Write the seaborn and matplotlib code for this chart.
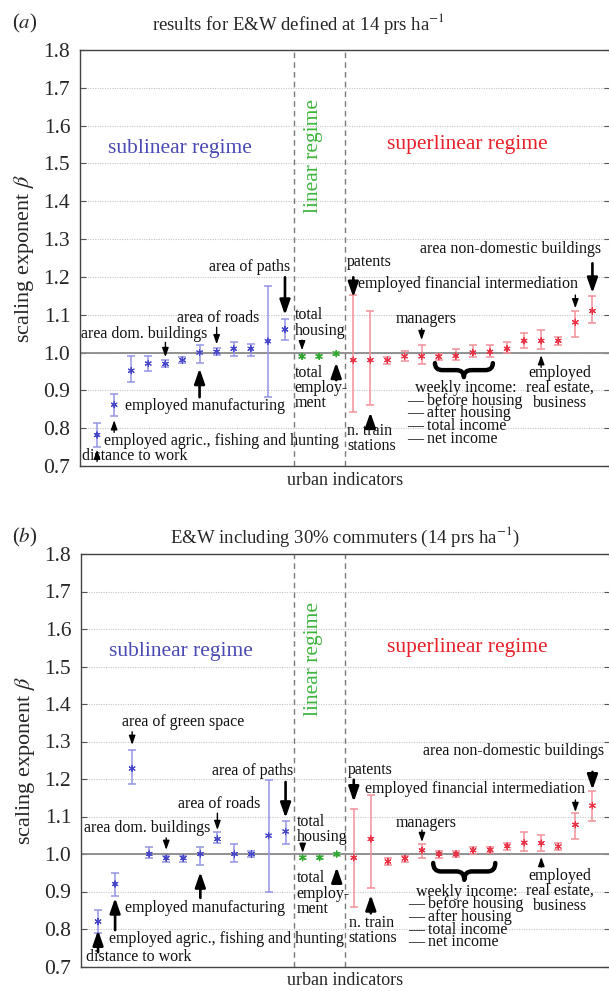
import numpy as np
import pandas as pd
import matplotlib
matplotlib.use("Agg")
import matplotlib.pyplot as plt
from matplotlib.path import Path
from matplotlib.patches import PathPatch
import seaborn as sns

# ---------------- data ----------------
regimes = ["sublinear"] * 12 + ["linear"] * 3 + ["superlinear"] * 15

# panel (a): E&W defined at 14 prs/ha
a_beta = [0.782, 0.862, 0.952, 0.971, 0.970, 0.980, 1.000, 1.002, 1.010, 1.010, 1.030, 1.061,
          0.990, 0.990, 0.997,
          0.980, 0.980, 0.980, 0.990, 0.990, 0.989, 0.991, 1.000, 1.002, 1.010, 1.031, 1.031, 1.031, 1.080, 1.110]
a_lo = [0.751, 0.833, 0.921, 0.952, 0.961, 0.972, 0.972, 0.993, 0.990, 0.992, 0.883, 1.033,
        0.986, 0.986, 0.993,
        0.842, 0.862, 0.971, 0.978, 0.971, 0.981, 0.980, 0.989, 0.989, 1.000, 1.011, 1.010, 1.021, 1.040, 1.077]
a_hi = [0.813, 0.891, 0.991, 0.990, 0.979, 0.988, 1.020, 1.011, 1.029, 1.022, 1.176, 1.090,
        0.994, 0.994, 1.001,
        1.153, 1.109, 0.989, 1.003, 1.020, 0.997, 1.010, 1.019, 1.019, 1.029, 1.051, 1.059, 1.040, 1.109, 1.149]

# panel (b): E&W including 30% commuters
b_beta = [0.820, 0.920, 1.228, 1.000, 0.989, 0.989, 1.000, 1.040, 1.000, 1.000, 1.049, 1.060,
          0.990, 0.990, 1.000,
          0.990, 1.040, 0.980, 0.988, 1.010, 1.000, 1.000, 1.010, 1.011, 1.021, 1.030, 1.029, 1.020, 1.078, 1.129]
b_lo = [0.790, 0.889, 1.188, 0.989, 0.980, 0.980, 0.970, 1.030, 0.979, 0.993, 0.898, 1.028,
        0.986, 0.986, 0.996,
        0.860, 0.909, 0.971, 0.980, 0.989, 0.990, 0.992, 1.000, 1.002, 1.010, 1.009, 1.009, 1.011, 1.039, 1.089]
b_hi = [0.850, 0.949, 1.278, 1.020, 0.996, 0.996, 1.020, 1.058, 1.028, 1.007, 1.198, 1.089,
        0.994, 0.994, 1.004,
        1.120, 1.158, 0.989, 0.996, 1.028, 1.009, 1.008, 1.020, 1.020, 1.029, 1.058, 1.050, 1.029, 1.109, 1.169]

yticks = [0.7, 0.8, 0.9, 1.0, 1.1, 1.2, 1.3, 1.4, 1.5, 1.6, 1.7, 1.8]
titles = ["results for E&W defined at 14 prs ha$^{-1}$",
          "E&W including 30% commuters (14 prs ha$^{-1}$)"]
panel_tags = ["($a$)", "($b$)"]
income_lines = ["  weekly income:", "— before housing", "— after housing",
                "— total income", "— net income"]

# ---------------- style ----------------
sns.set_theme(style="ticks")
plt.rcParams["font.family"] = ["Liberation Serif", "DejaVu Serif"]
plt.rcParams["mathtext.fontset"] = "stix"

marker_col = {"sublinear": "#4646c8", "linear": "#32a832", "superlinear": "#e83246"}
err_col = {"sublinear": "#9494e4", "linear": "#84cc84", "superlinear": "#f29098"}
text_col = {"sublinear": "#4a4ab4", "linear": "#3cb43c", "superlinear": "#e8202a"}

W, H = 609, 991
fig = plt.figure(figsize=(W / 100, H / 100), dpi=100)

def px_axes(l, t, r, b):
    return fig.add_axes([l / W, 1 - b / H, (r - l) / W, (b - t) / H])

axes = [px_axes(80, 50, 609.5, 466), px_axes(81, 554, 609.5, 966.5)]

def brace(ax, x0, x1, ytop, ybot, d=0.45):
    xm = (x0 + x1) / 2
    ym = (ytop + ybot) / 2
    verts = [(x0, ytop), (x0, ym), (x0 + d, ym), (xm - d, ym), (xm, ym), (xm, ybot),
             (xm, ym), (xm + d, ym), (x1 - d, ym), (x1, ym), (x1, ytop)]
    codes = [Path.MOVETO, Path.CURVE3, Path.CURVE3, Path.LINETO, Path.CURVE3, Path.CURVE3,
             Path.CURVE3, Path.CURVE3, Path.LINETO, Path.CURVE3, Path.CURVE3]
    ax.add_patch(PathPatch(Path(verts, codes), fill=False, lw=3.2, color="black",
                           capstyle="round", joinstyle="round"))

def arrow(ax, x, y0, y1, big=False):
    if big:
        props = dict(arrowstyle="-|>,head_length=0.75,head_width=0.26", lw=1.9, color="black",
                     shrinkA=0, shrinkB=0)
    else:
        props = dict(arrowstyle="-|>,head_length=0.45,head_width=0.16", lw=1.0, color="black",
                     shrinkA=0, shrinkB=0)
    ax.annotate("", xy=(x, y1), xytext=(x, y0), arrowprops=props)

FS = 11.5

# annotations: (text, x, y, ha, va)
ann_a = [
    ("area of paths", 9.91, 1.226, "center", "center"),
    ("total\nhousing", 12.55, 1.120, "left", "top"),
    ("area of roads", 8.09, 1.091, "center", "center"),
    ("area dom. buildings", 3.77, 1.048, "center", "center"),
    ("employed manufacturing", 7.33, 0.858, "center", "center"),
    ("employed agric., fishing and hunting", 8.27, 0.765, "center", "center"),
    ("distance to work", 3.18, 0.726, "center", "center"),
    ("total\nemploy-\nment", 12.55, 0.968, "left", "top"),
    ("patents", 15.62, 1.239, "left", "center"),
    ("employed financial intermediation", 22.72, 1.181, "center", "center"),
    ("area non-domestic buildings", 25.23, 1.273, "center", "center"),
    ("managers", 20.26, 1.088, "center", "center"),
    ("n. train\nstations", 15.64, 0.814, "left", "top"),
    ("employed\nreal estate,\nbusiness", 28.1, 0.968, "center", "top"),
]
income_a = (19.15, 0.927)
arr_a = [(12, 1.199, 1.099, True), (13, 1.033, 1.006, False), (8, 1.067, 1.022, False),
         (5, 1.027, 0.988, False), (7, 0.882, 0.958, True), (2, 0.789, 0.821, False),
         (1, 0.712, 0.743, False), (15, 0.927, 0.974, True), (16, 1.199, 1.146, True),
         (30, 1.236, 1.157, True), (29, 1.152, 1.117, False), (20, 1.064, 1.033, False),
         (17, 0.808, 0.842, True), (27, 0.961, 0.993, False)]
brace_a = (20.78, 24.17, 0.972, 0.935)

ann_b = [
    ("area of green space", 6.0, 1.352, "center", "center"),
    ("area of paths", 10.09, 1.222, "center", "center"),
    ("area of roads", 8.09, 1.133, "center", "center"),
    ("area dom. buildings", 3.89, 1.069, "center", "center"),
    ("total\nhousing", 12.66, 1.107, "left", "top"),
    ("employed manufacturing", 7.28, 0.856, "center", "center"),
    ("employed agric., fishing and hunting", 8.51, 0.773, "center", "center"),
    ("distance to work", 3.36, 0.725, "center", "center"),
    ("total\nemploy-\nment", 12.66, 0.956, "left", "top"),
    ("area non-domestic buildings", 25.35, 1.275, "center", "center"),
    ("patents", 15.64, 1.224, "left", "center"),
    ("employed financial intermediation", 23.13, 1.174, "center", "center"),
    ("managers", 20.26, 1.083, "center", "center"),
    ("n. train\nstations", 15.7, 0.838, "left", "top"),
    ("employed\nreal estate,\nbusiness", 28.1, 0.964, "center", "top"),
]
income_b = (19.2, 0.921)
arr_b = [(3, 1.326, 1.291, False), (12, 1.192, 1.096, True), (8, 1.109, 1.064, False),
         (5, 1.043, 1.011, False), (13, 1.029, 1.003, False), (7, 0.883, 0.952, True),
         (2, 0.797, 0.883, True), (1, 0.738, 0.797, True), (15, 0.923, 0.965, True),
         (30, 1.219, 1.171, True), (16, 1.198, 1.139, True), (29, 1.144, 1.112, False),
         (20, 1.064, 1.032, False), (17, 0.842, 0.891, True), (27, 0.965, 0.992, False)]
brace_b = (20.66, 24.30, 0.976, 0.931)

panels = [(a_beta, a_lo, a_hi, ann_a, arr_a, brace_a, income_a),
          (b_beta, b_lo, b_hi, ann_b, arr_b, brace_b, income_b)]

for ax, (beta, lo, hi, ann, arrs, br, inc) in zip(axes, panels):
    df = pd.DataFrame({"indicator": np.arange(1, len(beta) + 1), "beta": beta,
                       "lo": lo, "hi": hi, "regime": regimes})
    # grid
    for yt in yticks:
        ax.axhline(yt, color="#c4c4c4", lw=0.8, ls=(0, (1, 1.2)), zorder=0)
    ax.axhline(1.0, color="#8a8a8a", lw=1.3, zorder=1)
    for xv in (12.5, 15.5):
        ax.axvline(xv, color="#7a7a7a", lw=1.0, ls=(0, (4, 3)), zorder=1)
    for reg, g in df.groupby("regime"):
        ax.errorbar(g["indicator"], g["beta"],
                    yerr=[g["beta"] - g["lo"], g["hi"] - g["beta"]],
                    fmt="none", ecolor=err_col[reg], elinewidth=1.1, capsize=3.2,
                    capthick=1.1, zorder=2)
    sns.scatterplot(data=df, x="indicator", y="beta", hue="regime", palette=marker_col,
                    marker=(6, 2, 0), s=20, linewidth=0.8, legend=False, ax=ax, zorder=3)
    ax.set_xlim(0, 31)
    ax.set_ylim(0.7, 1.8)
    ax.set_yticks(yticks)
    ax.set_yticklabels([f"{v:.1f}" for v in yticks], fontsize=15.5)
    ax.set_xticks([])
    ax.tick_params(axis="y", direction="in", length=4, width=0.8, left=True, right=True,
                   pad=7, color="#555555")
    for sp in ax.spines.values():
        sp.set_visible(True)
        sp.set_color("#444444")
        sp.set_linewidth(1.0)
    ax.set_xlabel("urban indicators", fontsize=13, labelpad=4)
    ax.set_ylabel(r"scaling exponent $\beta$", fontsize=16)
    ax.yaxis.set_label_coords(-0.083, 0.5)
    ax.set_facecolor("white")

    ax.text(5.88, 1.54, "sublinear regime", color=text_col["sublinear"], fontsize=15.5,
            ha="center", va="center")
    ax.text(22.66, 1.55, "superlinear regime", color=text_col["superlinear"], fontsize=15.5,
            ha="center", va="center")
    ax.text(13.65, 1.52, "linear regime", color=text_col["linear"], fontsize=15.5,
            ha="center", va="center", rotation=90)
    for t, x, y, ha, va in ann:
        ax.text(x, y, t, fontsize=FS, ha=ha, va=va, color="#111111", linespacing=0.95)
    ax.text(inc[0], inc[1], "\n".join(income_lines), fontsize=FS, ha="left", va="top",
            multialignment="left", linespacing=0.72, color="#111111")
    for x, y0, y1, big in arrs:
        arrow(ax, x, y0, y1, big)
    brace(ax, *br)

fig.text(12 / W, 1 - 23 / H, panel_tags[0], fontsize=15, va="center", ha="left")
fig.text(298 / W, 1 - 23 / H, titles[0], fontsize=13.5, va="center", ha="center")
fig.text(12 / W, 1 - 537 / H, panel_tags[1], fontsize=15, va="center", ha="left")
fig.text(345 / W, 1 - 537 / H, titles[1], fontsize=13.5, va="center", ha="center")

fig.savefig("out.png", dpi=100, facecolor="white")
